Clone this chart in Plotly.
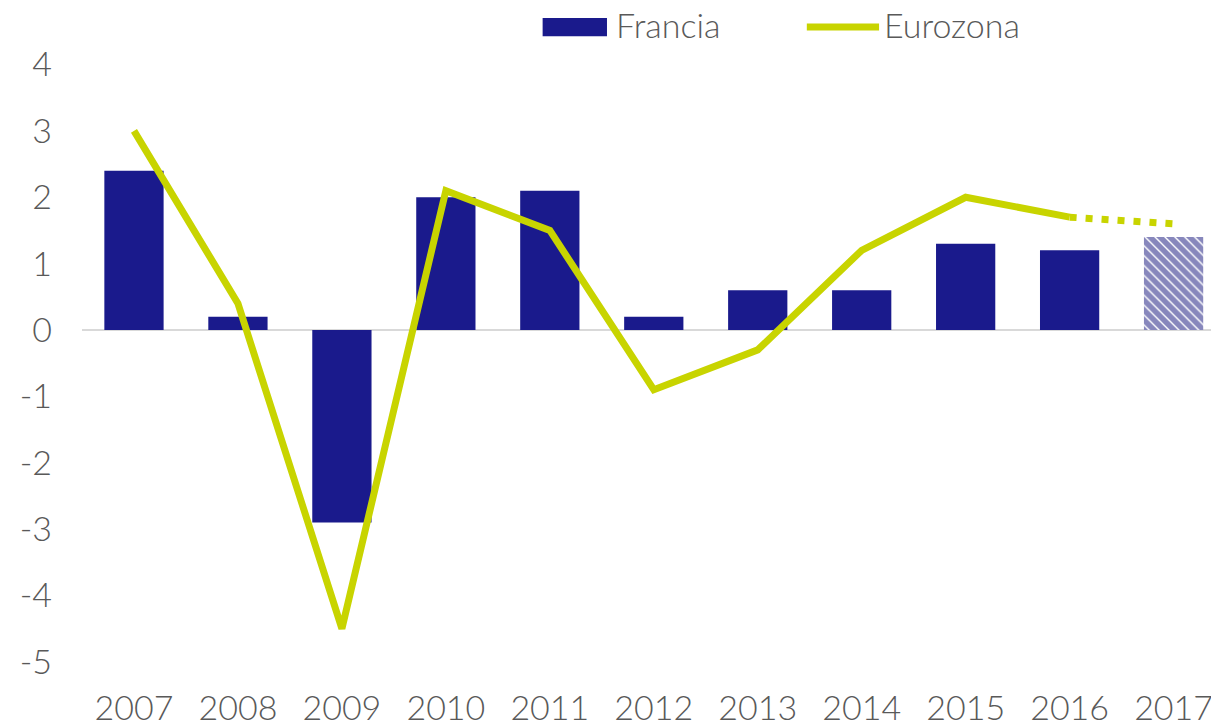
import plotly.graph_objects as go

years = ["2007", "2008", "2009", "2010", "2011", "2012", "2013", "2014", "2015", "2016", "2017"]
francia = [2.4, 0.2, -2.9, 2.0, 2.1, 0.2, 0.6, 0.6, 1.3, 1.2, None]
francia_prev = [None] * 10 + [1.4]
eurozona = [3.0, 0.4, -4.5, 2.1, 1.5, -0.9, -0.3, 1.2, 2.0, 1.7, None]
eurozona_prev = [None] * 9 + [1.7, 1.6]
y_ticks = [-5, -4, -3, -2, -1, 0, 1, 2, 3, 4]
y_ticklabels = ["-5", "-4", "-3", "-2", "-1", "0", "1", "2", "3", "4"]

NAVY = "#1a1a8c"
LIME = "#c8d400"
GREY = "#595959"
FONT = "Lato"

fig = go.Figure()
fig.add_trace(go.Bar(x=years, y=francia, marker=dict(color=NAVY, line=dict(width=0)),
                     width=0.57, showlegend=False))
fig.add_trace(go.Bar(x=years, y=francia_prev, width=0.57, showlegend=False,
                     marker=dict(color="white", line=dict(width=0),
                                 pattern=dict(shape="\\", fgcolor="#10107a", bgcolor="white",
                                              size=7, solidity=0.8))))
fig.add_trace(go.Scatter(x=years, y=eurozona, mode="lines",
                         line=dict(color=LIME, width=7), showlegend=False))
fig.add_trace(go.Scatter(x=years, y=eurozona_prev, mode="lines",
                         line=dict(color=LIME, width=7, dash="7px,9px"), showlegend=False))

# legend drawn manually
fig.add_shape(type="rect", xref="paper", yref="paper", x0=0.408, x1=0.465, y0=1.006, y1=1.034,
              fillcolor=NAVY, line=dict(width=0))
fig.add_annotation(xref="paper", yref="paper", x=0.471, y=1.024, text="Francia", showarrow=False,
                   xanchor="left", yanchor="middle",
                   font=dict(family=FONT, size=34, color=GREY, weight=300))
fig.add_shape(type="line", xref="paper", yref="paper", x0=0.642, x1=0.706, y0=1.02, y1=1.02,
              line=dict(color=LIME, width=7))
fig.add_annotation(xref="paper", yref="paper", x=0.709, y=1.024, text="Eurozona", showarrow=False,
                   xanchor="left", yanchor="middle",
                   font=dict(family=FONT, size=34, color=GREY, weight=300))

fig.update_layout(
    width=1211, height=725,
    margin=dict(l=82, r=0, t=40, b=40),
    plot_bgcolor="white", paper_bgcolor="white",
    barmode="overlay",
    font=dict(family=FONT, color=GREY, size=34, weight=300),
    xaxis=dict(range=[-0.5, 10.36], showgrid=False, showline=False, ticks="",
               automargin=False, ticklabelstandoff=0,
               tickfont=dict(family=FONT, size=34, color=GREY, weight=300)),
    yaxis=dict(range=[-5.35, 4.37], tickvals=y_ticks, ticktext=y_ticklabels,
               showgrid=False, zeroline=True, zerolinecolor="#d9d9d9", zerolinewidth=2,
               ticks="", ticklabelstandoff=29, automargin=False,
               tickfont=dict(family=FONT, size=34, color=GREY, weight=300)),
)

fig.write_html("out.html", config={"displayModeBar": False},
               post_script="document.body.style.margin='0';document.body.style.overflow='hidden';")
